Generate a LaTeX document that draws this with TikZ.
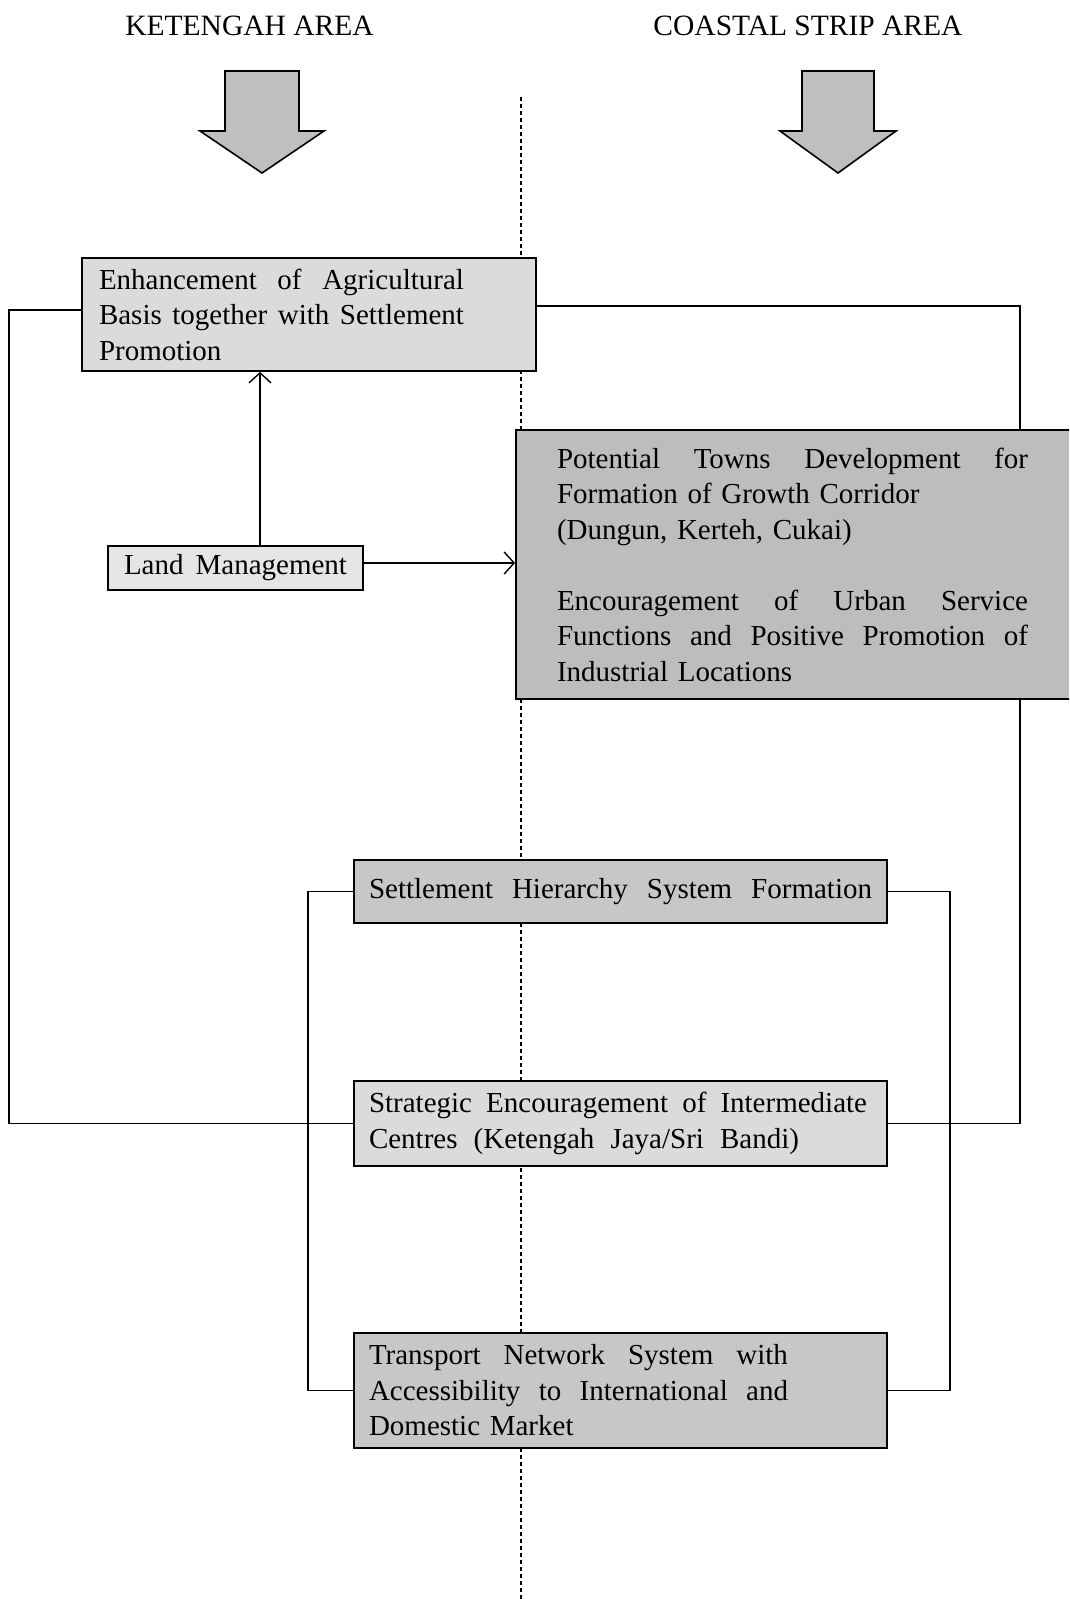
\documentclass[tikz,border=0pt]{standalone}
\usepackage{fontspec}
\setmainfont{Liberation Serif}
\usetikzlibrary{arrows.meta}
\newcommand{\jline}[2]{\leavevmode\hbox to #1{#2}}
\definecolor{fillA}{gray}{0.86}
\definecolor{fillB}{gray}{0.74}
\definecolor{fillC}{gray}{0.78}
\definecolor{fillD}{gray}{0.90}
\definecolor{arrfill}{gray}{0.75}
\begin{document}
\begin{tikzpicture}[x=1pt,y=-1pt,
  box/.style={draw=black, line width=1.8pt, inner sep=0pt, align=left,
    font=\fontsize{29}{35.5}\selectfont},
  link/.style={line width=1.4pt},
  arr/.style={link, -{Straight Barb[length=10pt,width=22pt,line width=1.4pt]}},
  head/.style={font=\fontsize{29.5}{34}\selectfont, inner sep=0pt},
  bigarrow/.style={draw=black, line width=1.6pt, fill=arrfill, line join=miter}
]
\useasboundingbox (0,0) rectangle (1069,1599);
\clip (0,0) rectangle (1069,1599);
\fill[white] (0,0) rectangle (1069,1599);

% divider
\coordinate (dtop) at (521,97);
\coordinate (dbot) at (521,1599);
\draw[dash pattern=on 4pt off 3pt, line width=1.2pt] (dtop) -- (dbot);

% headers
\node[head] (h1) at (249.5,26) {KETENGAH AREA};
\node[head] (h2) at (808,26) {COASTAL STRIP AREA};

% big arrows
\draw[bigarrow] (225,71) -- (299,71) -- (299,131) -- (324,131) -- (262,173) -- (200,131) -- (225,131) -- cycle;
\draw[bigarrow] (802,71) -- (874,71) -- (874,131) -- (896,131) -- (838,173) -- (780,131) -- (802,131) -- cycle;

% boxes
\node[box, fill=fillA, minimum width=454pt, minimum height=113pt, text width=420pt] (ag) at (309,314.5)
  {\jline{365pt}{Enhancement\hfill of\hfill Agricultural}\\
   \jline{365pt}{Basis\hfill together\hfill with\hfill Settlement}\\ Promotion};

\node[box, fill=fillB, minimum width=559pt, minimum height=269pt, text width=477pt] (pt) at (795.5,564.5)
  {\jline{471pt}{Potential\hfill Towns\hfill Development\hfill for}\\
   Formation of Growth Corridor\\ (Dungun, Kerteh, Cukai)\\[35.5pt]
   \jline{471pt}{Encouragement\hfill of\hfill Urban\hfill Service}\\
   \jline{471pt}{Functions\hfill and\hfill Positive\hfill Promotion\hfill of}\\ Industrial Locations};

\node[box, fill=fillD, minimum width=255pt, minimum height=44pt, text width=223pt] (lm) at (235.5,568)
  {\jline{223pt}{Land\hfill Management}};

\node[box, fill=fillC, minimum width=533pt, minimum height=63pt, text width=503pt] (sh) at (620.5,891.5)
  {\jline{503pt}{Settlement\hfill Hierarchy\hfill System\hfill Formation}};

\node[box, fill=fillA, minimum width=533pt, minimum height=85pt, text width=503pt] (se) at (620.5,1123.5)
  {\jline{498pt}{Strategic\hfill Encouragement\hfill of\hfill Intermediate}\\
   \jline{430pt}{Centres\hfill (Ketengah\hfill Jaya/Sri\hfill Bandi)}};

\node[box, fill=fillC, minimum width=533pt, minimum height=115pt, text width=503pt] (tn) at (620.5,1390.5)
  {\jline{419pt}{Transport\hfill Network\hfill System\hfill with}\\
   \jline{419pt}{Accessibility\hfill to\hfill International\hfill and}\\ Domestic Market};

% connectors
\draw[link] ([yshift=4.5pt]ag.west) -- ++(-72,0) |- (se.west);
\draw[link] ([yshift=8.5pt]ag.east) -| ([xshift=224.5pt]pt.north);
\draw[link] ([xshift=224.5pt]pt.south) |- (se.east);
\draw[link] (sh.west) -- ++(-45,0) |- (tn.west);
\draw[link] (sh.east) -- ++(62,0) |- (tn.east);
\draw[arr] ([xshift=24.5pt]lm.north) -- ([xshift=24.5pt]lm.north |- ag.south);
\draw[arr] ([yshift=5pt]lm.east) -- ([yshift=5pt]lm.east -| pt.west);
\end{tikzpicture}
\end{document}
